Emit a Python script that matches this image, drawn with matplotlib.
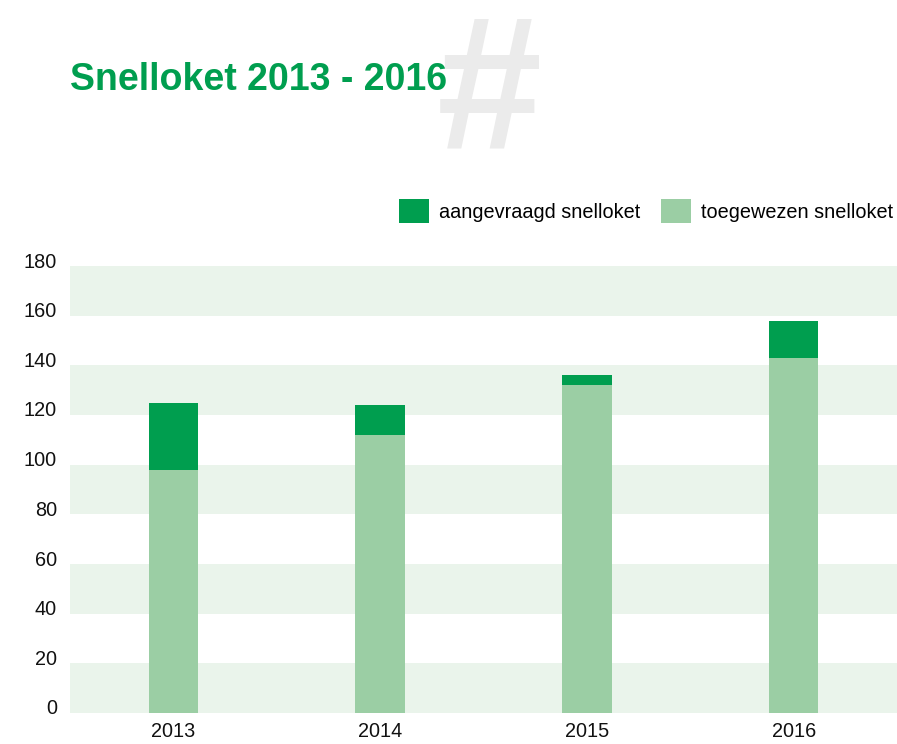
import matplotlib
matplotlib.use("Agg")
import matplotlib.pyplot as plt
from matplotlib.patches import Patch
from matplotlib.transforms import ScaledTranslation

plt.rcParams['font.family'] = ['Liberation Sans', 'DejaVu Sans']

years = ["2013", "2014", "2015", "2016"]
aangevraagd = [125, 124, 136, 158]
toegewezen = [98, 112, 132, 143]
yticks = [0, 20, 40, 60, 80, 100, 120, 140, 160, 180]

DARK = "#009E4F"
LIGHT = "#9BCEA4"
BAND = "#EAF4EB"

W, H = 897, 744
fig = plt.figure(figsize=(W / 100, H / 100), dpi=100)
ax = fig.add_axes([70 / W, 31 / H, (W - 70) / W, 447 / H])

x = list(range(len(years)))
for lo in range(0, 180, 40):
    ax.axhspan(lo, lo + 20, color=BAND, zorder=0, lw=0)

ax.bar(x, aangevraagd, width=0.24, color=DARK, zorder=2, label="aangevraagd snelloket")
ax.bar(x, toegewezen, width=0.24, color=LIGHT, zorder=3, label="toegewezen snelloket")

ax.set_xlim(-0.5, 3.5)
ax.set_ylim(0, 180)
ax.set_xticks(x)
ax.set_xticklabels(years, fontsize=14.3, color="#111111")
ax.set_yticks(yticks)
ax.set_yticklabels([str(v) for v in yticks], fontsize=14.3, color="#111111")
ax.tick_params(axis="both", length=0)
ax.tick_params(axis="y", pad=9.4)
ax.tick_params(axis="x", pad=6.5)
for lab in ax.get_yticklabels():
    lab.set_transform(lab.get_transform() + ScaledTranslation(0, 6 / 100, fig.dpi_scale_trans))
for s in ax.spines.values():
    s.set_visible(False)

# background hash
fig.text(489 / W, 1 - 147 / H, "#", fontsize=136, fontweight="bold", color="#EBEBEB",
         ha="center", va="baseline", zorder=0)
fig.text(70 / W, 1 - 80 / H, "Snelloket 2013 - 2016", fontsize=27, fontweight="bold",
         color=DARK, ha="left", va="center", zorder=5)

handles = [Patch(facecolor=DARK, label="aangevraagd snelloket"),
           Patch(facecolor=LIGHT, label="toegewezen snelloket")]
fig.legend(handles=handles, loc="center right", bbox_to_anchor=(893 / W, 1 - 211 / H),
           ncol=2, frameon=False, fontsize=14.3, handlelength=1.5, handleheight=1.55,
           handletextpad=0.5, columnspacing=1.05, borderaxespad=0, borderpad=0)

fig.savefig("out.png", dpi=100)
